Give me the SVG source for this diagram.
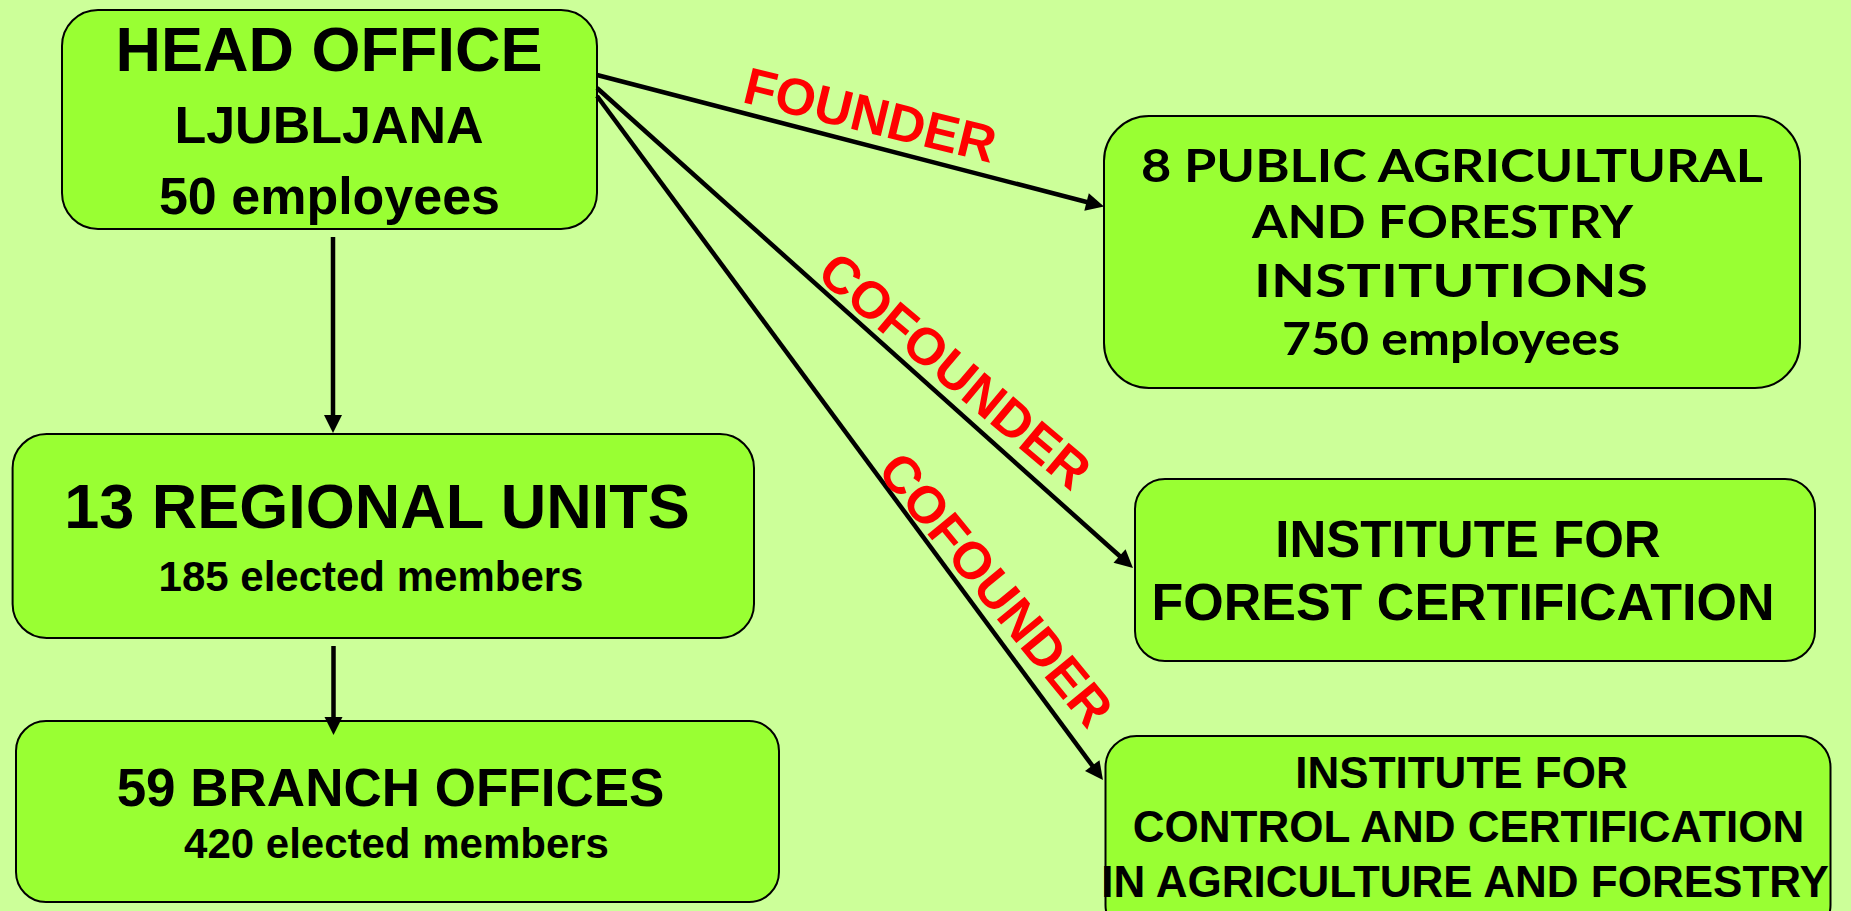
<svg xmlns="http://www.w3.org/2000/svg" width="1851" height="911" viewBox="0 0 1851 911">
<defs>
<style>
.bg { fill:#CCFF99; }
.box { fill:#99FF33; stroke:#000; stroke-width:2; }
.t { font-family:'Liberation Sans', Arial, sans-serif; font-weight:bold; fill:#000; text-anchor:middle; }
.c { font-family:Lato, 'DejaVu Sans', sans-serif; font-weight:bold; fill:#000; text-anchor:middle; font-size:46px; }
.lbl { font-family:'Liberation Sans', Arial, sans-serif; font-weight:bold; fill:#FF0000; font-size:52px; text-anchor:middle; }
.conn { stroke:#000; stroke-width:4.5; fill:none; marker-end:url(#arrow); }
</style>
<marker id="arrow" markerUnits="userSpaceOnUse" markerWidth="18" markerHeight="18" refX="8" refY="9" orient="auto" overflow="visible">
<path d="M0,0 L18,9 L0,18 Z" fill="#000"/>
</marker>
</defs>
<rect class="bg" x="0" y="0" width="1851" height="911"/>

<g id="head-office">
<rect class="box" x="62" y="10" width="535" height="219" rx="36" ry="36"/>
<text class="t" x="329" y="71" font-size="63">HEAD OFFICE</text>
<text class="t" x="329" y="143" font-size="52">LJUBLJANA</text>
<text class="t" x="329.5" y="214" font-size="52">50 employees</text>
</g>

<g id="public-institutions">
<rect class="box" x="1104" y="116" width="696" height="272" rx="45" ry="45"/>
<text class="c" x="1452" y="182" textLength="622" lengthAdjust="spacingAndGlyphs">8 PUBLIC AGRICULTURAL</text>
<text class="c" x="1442.5" y="238" textLength="381" lengthAdjust="spacingAndGlyphs">AND FORESTRY</text>
<text class="c" x="1451" y="297" textLength="394" lengthAdjust="spacingAndGlyphs">INSTITUTIONS</text>
<text class="c" x="1451" y="355" textLength="338" lengthAdjust="spacingAndGlyphs">750 employees</text>
</g>

<g id="regional-units">
<rect class="box" x="12.6" y="434" width="741.4" height="204" rx="34" ry="34"/>
<text class="t" x="377" y="528" font-size="63">13 REGIONAL UNITS</text>
<text class="t" x="371" y="591" font-size="42">185 elected members</text>
</g>

<g id="branch-offices">
<rect class="box" x="16" y="721" width="763" height="181" rx="30" ry="30"/>
<text class="t" x="390.5" y="806" font-size="53">59 BRANCH OFFICES</text>
<text class="t" x="396.5" y="858" font-size="42">420 elected members</text>
</g>

<g id="forest-certification">
<rect class="box" x="1135" y="479" width="680" height="182" rx="30" ry="30"/>
<text class="t" x="1468" y="557" font-size="51">INSTITUTE FOR</text>
<text class="t" x="1463" y="620" font-size="52">FOREST CERTIFICATION</text>
</g>

<g id="control-certification">
<rect class="box" x="1105.5" y="736" width="725" height="200" rx="31" ry="31"/>
<text class="t" x="1461.5" y="788" font-size="44">INSTITUTE FOR</text>
<text class="t" x="1468.5" y="842" font-size="44">CONTROL AND CERTIFICATION</text>
<text class="t" x="1465" y="897" font-size="44">IN AGRICULTURE AND FORESTRY</text>
</g>

<g id="connectors">
<path class="conn" d="M597,75 L1094.3,204"/>
<path class="conn" d="M597,88 L1125.5,561.3"/>
<path class="conn" d="M597,96 L1097,772"/>
<path class="conn" d="M333,237 L333,423"/>
<path class="conn" d="M333.5,646 L333.5,725"/>
<text class="lbl" transform="translate(866,132.5) rotate(13.7)">FOUNDER</text>
<text class="lbl" transform="translate(943.3,384.4) rotate(40)">COFOUNDER</text>
<text class="lbl" transform="translate(982,601) rotate(50.7)">COFOUNDER</text>
</g>
</svg>
